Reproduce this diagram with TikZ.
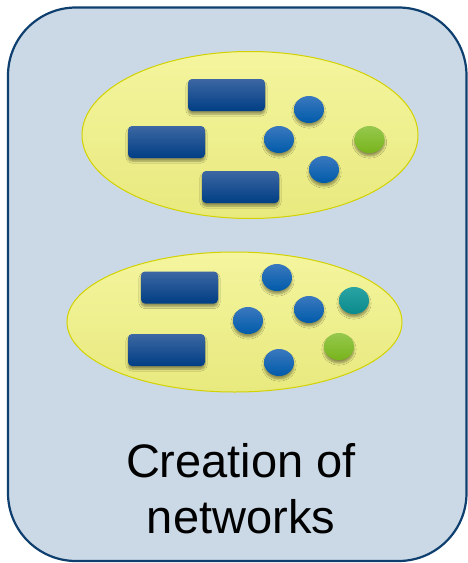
\documentclass[tikz,border=0pt]{standalone}
\usepackage{fontspec}
\setmainfont{Liberation Sans}
\usetikzlibrary{shapes.geometric,shadows.blur}
\definecolor{panelfill}{HTML}{CBD9E6}
\definecolor{panelline}{HTML}{0E3F6E}
\definecolor{ellA}{HTML}{F4F59E}
\definecolor{ellB}{HTML}{E8E97E}
\definecolor{ellline}{HTML}{D2D200}
\definecolor{recTop}{HTML}{3D67A3}
\definecolor{recBot}{HTML}{003E84}
\definecolor{cirTop}{HTML}{3A78BE}
\definecolor{cirBot}{HTML}{005BAA}
\definecolor{grnTop}{HTML}{96C84E}
\definecolor{grnBot}{HTML}{78B41C}
\definecolor{tealTop}{HTML}{2AA3A3}
\definecolor{tealBot}{HTML}{0A8A8C}
\tikzset{
  panel/.style={draw=panelline, line width=2.2pt, fill=panelfill, rounded corners=68pt},
  cluster/.style={draw=ellline, line width=1pt, top color=ellA, bottom color=ellB, ellipse, inner sep=0pt},
  blk/.style={rounded corners=4pt, top color=recTop, bottom color=recBot, minimum width=77pt, minimum height=32pt, inner sep=0pt,
     blur shadow={shadow xshift=0pt, shadow yshift=-3pt, shadow blur steps=6, shadow blur extra rounding=2pt, shadow opacity=40}},
  dot/.style={ellipse, top color=cirTop, bottom color=cirBot, minimum width=30pt, minimum height=27pt, inner sep=0pt,
     blur shadow={shadow xshift=0pt, shadow yshift=-3pt, shadow blur steps=6, shadow opacity=40}},
  gdot/.style={dot, top color=grnTop, bottom color=grnBot},
  tdot/.style={dot, top color=tealTop, bottom color=tealBot},
  caption/.style={font=\fontsize{47pt}{56pt}\selectfont, anchor=base, inner sep=0pt},
}
\begin{document}
\begin{tikzpicture}[x=1pt,y=-1pt]
\useasboundingbox (0,0) rectangle (467,563);
\draw[panel] (8,7.5) rectangle (466.5,561);
% first cluster
\node[cluster, minimum width=336pt, minimum height=167pt] (e1) at (250,135) {};
\node[blk] (a1) at (226.5,95) {};
\node[blk] (a2) at (166.5,142) {};
\node[blk] (a3) at (240.5,187) {};
\node[dot] (d1) at (309,109.5) {};
\node[dot] (d2) at (279,139.5) {};
\node[dot] (d3) at (324,169.5) {};
\node[gdot] (g1) at (369.5,139.5) {};
% second cluster
\node[cluster, minimum width=335pt, minimum height=140pt] (e2) at (234.5,322) {};
\node[blk] (b1) at (179.5,287.5) {};
\node[blk] (b2) at (166.5,350) {};
\node[dot] (f1) at (277,277.5) {};
\node[dot] (f2) at (248,320.5) {};
\node[dot] (f3) at (309,309.5) {};
\node[tdot] (t1) at (354,300.5) {};
\node[gdot] (g2) at (339,346.5) {};
\node[dot] (f4) at (279,362.5) {};
% label
\node[caption] (lbl1) at (241,477) {Creation of};
\node[caption] (lbl2) at (241,533) {networks};
\end{tikzpicture}
\end{document}
